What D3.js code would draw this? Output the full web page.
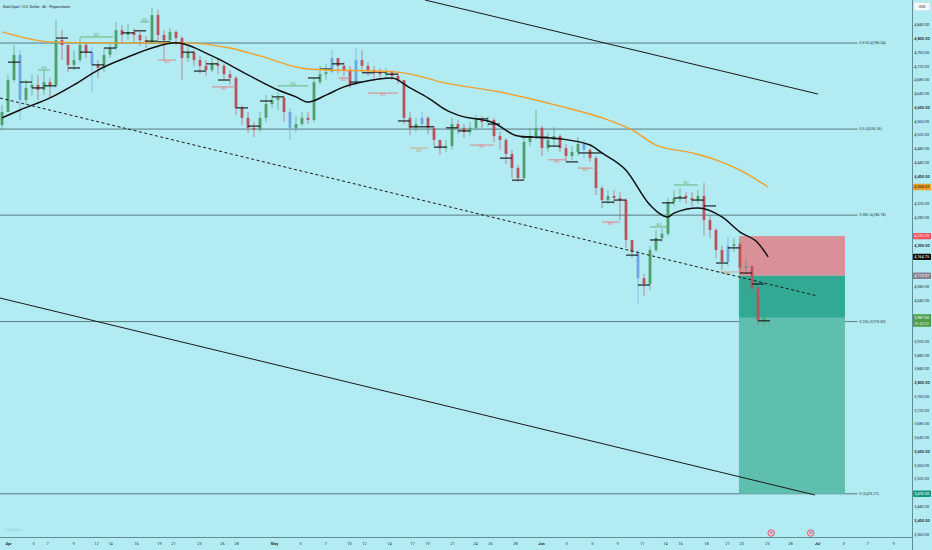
<!DOCTYPE html>
<html>
<head>
<meta charset="utf-8">
<script src="https://cdn.jsdelivr.net/npm/d3@7"></script>
<style>
  html, body { margin: 0; padding: 0; background: #b2ebf2; }
  svg { display: block; font-family: Roboto, "Liberation Sans", sans-serif; }
</style>
</head>
<body>
<svg id="chart" width="932" height="550"></svg>
<script>
// ---- data: 12h candles (index 0 = last days of March) ----
const firstOpen = 4548;
const closes = [
  4586, 4679, 4752, 4621, 4656, 4665, 4650, 4673, 4662, 4795,
  4781, 4723, 4737, 4781, 4760, 4723, 4714, 4752, 4772, 4824,
  4810, 4819, 4810, 4795, 4790, 4868, 4810, 4795, 4819, 4801,
  4743, 4760, 4737, 4720, 4708, 4726, 4720, 4696, 4685, 4598,
  4569, 4540, 4534, 4569, 4609, 4621, 4627, 4586, 4540, 4551,
  4569, 4563, 4673, 4696, 4702, 4743, 4720, 4708, 4667, 4737,
  4720, 4708, 4702, 4696, 4702, 4691, 4679, 4569, 4540, 4551,
  4569, 4540, 4505, 4481, 4487, 4551, 4540, 4528, 4540, 4563,
  4557, 4563, 4516, 4505, 4464, 4423, 4394, 4499, 4516, 4540,
  4481, 4505, 4516, 4481, 4458, 4470, 4493, 4476, 4452, 4365,
  4330, 4342, 4336, 4330, 4214, 4179, 4103, 4086, 4185, 4220,
  4232, 4324, 4336, 4342, 4336, 4330, 4342, 4272, 4243, 4185,
  4150, 4197, 4202, 4133, 4138, 4075, 3980, 3987.6
];
const highs = [
  4606, 4694, 4781, 4766, 4679, 4694, 4694, 4708, 4685, 4853,
  4824, 4781, 4766, 4801, 4790, 4775, 4737, 4772, 4790, 4848,
  4839, 4842, 4830, 4819, 4807, 4891, 4883, 4824, 4830, 4824,
  4805, 4778, 4766, 4749, 4737, 4743, 4743, 4726, 4708, 4691,
  4606, 4586, 4557, 4586, 4635, 4638, 4644, 4633, 4598, 4574,
  4586, 4586, 4685, 4720, 4726, 4766, 4743, 4731, 4720, 4772,
  4766, 4731, 4720, 4714, 4714, 4708, 4702, 4679, 4586, 4569,
  4586, 4574, 4545, 4505, 4505, 4569, 4563, 4551, 4557, 4577,
  4574, 4574, 4569, 4528, 4510, 4476, 4432, 4510, 4540, 4592,
  4545, 4528, 4543, 4522, 4493, 4487, 4513, 4505, 4481, 4458,
  4371, 4359, 4359, 4353, 4336, 4214, 4185, 4115, 4197, 4243,
  4249, 4336, 4359, 4365, 4353, 4353, 4359, 4380, 4284, 4249,
  4197, 4223, 4220, 4208, 4162, 4140, 4080, 4001
];
const lows = [
  4534, 4586, 4673, 4563, 4606, 4635, 4621, 4635, 4627, 4656,
  4737, 4702, 4708, 4731, 4743, 4644, 4685, 4702, 4743, 4766,
  4790, 4795, 4790, 4778, 4772, 4784, 4795, 4737, 4790, 4781,
  4679, 4731, 4720, 4696, 4691, 4702, 4696, 4679, 4667, 4577,
  4548, 4525, 4513, 4528, 4557, 4598, 4592, 4557, 4505, 4528,
  4545, 4551, 4557, 4667, 4679, 4696, 4696, 4691, 4656, 4662,
  4702, 4691, 4685, 4679, 4685, 4679, 4667, 4551, 4519, 4528,
  4540, 4522, 4487, 4461, 4470, 4476, 4522, 4510, 4516, 4534,
  4540, 4545, 4499, 4476, 4435, 4394, 4383, 4388, 4487, 4505,
  4458, 4470, 4487, 4470, 4441, 4447, 4458, 4452, 4441, 4345,
  4307, 4319, 4319, 4272, 4191, 4162, 4025, 4051, 4069, 4179,
  4208, 4226, 4313, 4324, 4319, 4313, 4319, 4226, 4220, 4162,
  4127, 4138, 4179, 4115, 4115, 4060, 3966, 3964
];
const blueBars = [3, 15, 48, 55, 59, 70, 97, 106, 121];

// moving averages, sampled [bar, price]
const orangeMA = [
  [0, 4819], [8, 4790], [16, 4787], [30, 4787], [38, 4772], [43, 4749], [51, 4711],
  [66, 4702], [74, 4670], [83, 4644], [93, 4603], [101, 4563], [105, 4534],
  [109, 4490], [115, 4467], [119, 4447], [123, 4417], [127.7, 4368]
];
const blackMA = [
  [0, 4569], [3, 4592], [8, 4627], [12, 4665], [16, 4708], [21, 4746], [25, 4772],
  [29, 4787], [35, 4749], [41, 4694], [46, 4650], [49, 4630], [51, 4615], [54, 4635],
  [57, 4659], [60, 4673], [65, 4685], [68, 4656], [71, 4627], [74, 4592], [76, 4577],
  [82, 4554], [86, 4516], [93, 4508], [98, 4490], [100, 4467], [104, 4417],
  [108, 4316], [111, 4281], [112, 4292], [116, 4307], [120, 4281], [123, 4237],
  [126, 4205], [127.7, 4164.75]
];

// short black level marks [bar, price]
const levelMarks = [
  [2, 4731], [4, 4673], [6, 4656], [8, 4662], [10, 4801], [12, 4714], [14, 4760], [16, 4723],
  [18, 4772], [21, 4816], [23, 4822], [25, 4792], [27, 4790], [29, 4787], [31, 4760],
  [33, 4705], [35, 4726], [37, 4679], [40, 4598], [42, 4545], [44, 4618], [46, 4630],
  [52, 4685], [54, 4711], [56, 4726], [59, 4673], [61, 4700], [63, 4702], [65, 4696],
  [67, 4560], [69, 4543], [71, 4543], [73, 4484], [75, 4540], [77, 4531], [80, 4566],
  [82, 4551], [84, 4452], [86, 4388], [87.5, 4513], [90, 4513], [92, 4487], [95, 4441],
  [97, 4467], [99, 4467], [101, 4324], [103, 4330], [105, 4170], [107, 4083], [109, 4214],
  [111, 4322], [113, 4336], [116, 4330], [118, 4313], [120, 4147], [122, 4191],
  [124, 4118], [126, 4086], [127, 3979]
];

// structure lines [fromBar, toBar, price, kind]
const structures = [
  [6, 8, 4708, 'bull'], [13, 18.5, 4804, 'bull'], [23, 24.5, 4848, 'bull'],
  [26, 29, 4737, 'bear'], [35, 39, 4659, 'bear'], [46, 51, 4662, 'bull'],
  [56, 58, 4685, 'bear'], [61, 66, 4641, 'bear'], [68, 71, 4481, 'tan'],
  [78, 82, 4490, 'bear'], [91, 94, 4447, 'bear'], [96, 98.5, 4423, 'bear'],
  [100, 103, 4266, 'bear'], [108, 111, 4252, 'bull'], [112, 116, 4374, 'bull'],
  [119, 123, 4121, 'tan']
];

// fibonacci levels [ratio, price]
const fibLevels = [[0.618, 4786.54], [0.5, 4536.36], [0.382, 4286.18], [0.236, 3976.83], [0, 3476.27]];

// drawn trend lines [[bar, price], [bar, price]]
const trendLines = [
  [[70.5, 4911.6], [136, 4638.3]],
  [[-0.34, 4045.3], [135.5, 3472.6]]
];
const dashedLine = [[-0.34, 4626.7], [136, 4051]];

// short position
const position = { fromBar: 122.83, toBar: 140.5, stop: 4225.29, entry: 4110.07, target: 3476.5 };
const lastPrice = 3987.6;
const countdown = '01:52:22';

// right axis tags
const priceTags = [
  { price: 4368.03, bg: '#f39c26', fg: '#1a1a1a' },
  { price: 4225.29, bg: '#f0505c', fg: '#ffffff' },
  { price: 4164.75, bg: '#0d0d0d', fg: '#ffffff' },
  { price: 4110.07, bg: '#8b8090', fg: '#ffffff' },
  { price: 3476.50, bg: '#14977d', fg: '#ffffff' }
];

const priceTicks = d3.range(3360, 4841, 40);
const timeTicks = [
  [1, 'Apr'], [5.17, '5'], [7.5, '7'], [11.83, '9'], [15.67, '12'], [18, '14'], [22.33, '16'],
  [26.17, '19'], [28.5, '21'], [32.83, '23'], [36.67, '26'], [39, '28'], [45.33, 'May'],
  [49.67, '5'], [53.83, '7'], [57.83, '10'], [60.33, '12'], [64.5, '14'], [68.33, '17'],
  [70.83, '19'], [75, '21'], [78.83, '24'], [81.33, '26'], [85.5, '28'], [89.83, 'Jun'],
  [94, '3'], [98.33, '5'], [102.5, '9'], [106.67, '11'], [110.5, '14'], [113, '16'],
  [117.33, '18'], [120.83, '21'], [123.17, '23'], [127.5, '25'], [131.33, '28'],
  [135.83, 'Jul'], [140.17, '3'], [144.17, '7'], [148.5, '9']
];
const months = ['Apr', 'May', 'Jun', 'Jul'];
const events = [128.2, 134.8];

// ---- layout ----
const W = 932, H = 550;
const plotW = 912, plotH = 537;
const fibEndBar = 142.6;
const UP = '#4f9e6b', DOWN = '#b9545e', BLUE = '#6ea7e0';

const x = d3.scaleLinear().domain([-1 / 3, 151.67]).range([0, plotW]);
const y = d3.scaleLinear().domain([3350.6, 4911.6]).range([plotH, 0]);

const svg = d3.select('#chart');
svg.append('rect').attr('width', W).attr('height', H).attr('fill', '#b2ebf2');

svg.append('clipPath').attr('id', 'plot')
  .append('rect').attr('width', plotW).attr('height', plotH);
const plot = svg.append('g').attr('clip-path', 'url(#plot)');

// fib levels
plot.selectAll('line.fib').data(fibLevels).join('line')
  .attr('class', 'fib')
  .attr('x1', 0).attr('x2', x(fibEndBar))
  .attr('y1', d => y(d[1])).attr('y2', d => y(d[1]))
  .attr('stroke', '#4f6d74').attr('stroke-width', 0.9);
plot.selectAll('text.fib').data(fibLevels).join('text')
  .attr('class', 'fib')
  .attr('x', x(fibEndBar) + 2).attr('y', d => y(d[1]) + 1.3)
  .attr('font-size', 3.6).attr('fill', '#2b3a40')
  .text(d => `${d[0]} (${d3.format(',.2f')(d[1])})`);

// position box
const px0 = x(position.fromBar), px1 = x(position.toBar);
plot.append('rect').attr('x', px0).attr('width', px1 - px0)
  .attr('y', y(position.stop)).attr('height', y(position.entry) - y(position.stop))
  .attr('fill', '#da9099');
plot.append('rect').attr('x', px0).attr('width', px1 - px0)
  .attr('y', y(position.entry)).attr('height', y(lastPrice) - y(position.entry))
  .attr('fill', '#31a993');
plot.append('rect').attr('x', px0).attr('width', px1 - px0)
  .attr('y', y(lastPrice)).attr('height', y(position.target) - y(lastPrice))
  .attr('fill', '#5ebfae');

// candles
const bars = closes.map((c, i) => ({
  i, open: i === 0 ? firstOpen : closes[i - 1], close: c, high: highs[i], low: lows[i]
}));
const colorOf = d => blueBars.includes(d.i) ? BLUE : (d.close >= d.open ? UP : DOWN);
const candle = plot.append('g').selectAll('g').data(bars).join('g');
candle.append('line')
  .attr('x1', d => x(d.i)).attr('x2', d => x(d.i))
  .attr('y1', d => y(d.high)).attr('y2', d => y(d.low))
  .attr('stroke', colorOf).attr('stroke-width', 0.8).attr('opacity', 0.8);
candle.append('rect')
  .attr('x', d => x(d.i) - 1.4).attr('width', 2.8)
  .attr('y', d => y(Math.max(d.open, d.close)))
  .attr('height', d => Math.max(0.8, Math.abs(y(d.open) - y(d.close))))
  .attr('fill', colorOf);

// structure lines
const structColor = { bull: '#5fb06a', bear: '#e07a80', tan: '#c9a27a' };
plot.selectAll('line.st').data(structures).join('line')
  .attr('class', 'st')
  .attr('x1', d => x(d[0])).attr('x2', d => x(d[1]))
  .attr('y1', d => y(d[2])).attr('y2', d => y(d[2]))
  .attr('stroke', d => structColor[d[3]]).attr('stroke-width', 0.9);
plot.selectAll('text.st').data(structures).join('text')
  .attr('class', 'st')
  .attr('x', d => (x(d[0]) + x(d[1])) / 2)
  .attr('y', d => y(d[2]) + (d[3] === 'bull' ? -1 : 3.4))
  .attr('text-anchor', 'middle').attr('font-size', 2.6)
  .attr('fill', d => structColor[d[3]])
  .text('BOS');

// level marks
plot.selectAll('line.mark').data(levelMarks).join('line')
  .attr('class', 'mark')
  .attr('x1', d => x(d[0] - 1)).attr('x2', d => x(d[0] + 1))
  .attr('y1', d => y(d[1])).attr('y2', d => y(d[1]))
  .attr('stroke', '#111').attr('stroke-width', 1.1);

// moving averages
const maLine = d3.line().x(d => x(d[0])).y(d => y(d[1])).curve(d3.curveMonotoneX);
plot.append('path').attr('d', maLine(orangeMA))
  .attr('fill', 'none').attr('stroke', '#f2a12c').attr('stroke-width', 1.4);
plot.append('path').attr('d', maLine(blackMA))
  .attr('fill', 'none').attr('stroke', '#111').attr('stroke-width', 1.5);

// trend lines
const straight = d3.line().x(d => x(d[0])).y(d => y(d[1]));
plot.selectAll('path.trend').data(trendLines).join('path')
  .attr('class', 'trend').attr('d', straight)
  .attr('fill', 'none').attr('stroke', '#1a1a1a').attr('stroke-width', 1);
plot.append('path').attr('d', straight(dashedLine))
  .attr('fill', 'none').attr('stroke', '#1a1a1a').attr('stroke-width', 1)
  .attr('stroke-dasharray', '3,2.5');

// title + watermark
svg.append('text').attr('x', 3).attr('y', 8).attr('font-size', 3.7).attr('fill', '#1c2428')
  .text('Gold Spot / U.S. Dollar · 4h · Pepperstone');
svg.append('text').attr('x', 4).attr('y', 531).attr('font-size', 3.4).attr('fill', '#8fcdd4')
  .text('TradingView');

// axis frame
svg.append('line').attr('x1', plotW + 0.5).attr('x2', plotW + 0.5).attr('y1', 0).attr('y2', H)
  .attr('stroke', '#5e8d94').attr('stroke-width', 1);
svg.append('line').attr('x1', 0).attr('x2', plotW).attr('y1', plotH + 0.5).attr('y2', plotH + 0.5)
  .attr('stroke', '#5e8d94').attr('stroke-width', 1);

// price axis: hide tick labels that sit under a price tag, like the platform does
const tagH = 6.4;
const lastY = y(lastPrice);
const covered = p => {
  const py = y(p);
  return priceTags.some(t => Math.abs(y(t.price) - py) < tagH + 0.2) ||
    (py > lastY - 3.6 - 3.3 && py < lastY + 9 + 3.3);
};
const gY = svg.append('g').attr('transform', `translate(${plotW},0)`)
  .call(d3.axisRight(y).tickValues(priceTicks.filter(p => !covered(p))).tickSize(0).tickPadding(2.2)
    .tickFormat(d3.format(',.2f')));
gY.select('.domain').remove();
gY.attr('font-family', null).attr('font-size', null);
gY.selectAll('text').attr('font-size', 3.9).attr('fill', '#27343a')
  .attr('font-weight', d => d % 200 === 0 ? 'bold' : 'normal');

// time axis
const gX = svg.append('g').attr('transform', `translate(0,${plotH})`)
  .call(d3.axisBottom(x).tickValues(timeTicks.map(d => d[0])).tickSize(0).tickPadding(5)
    .tickFormat((d, i) => timeTicks[i][1]));
gX.select('.domain').remove();
gX.attr('font-family', null).attr('font-size', null);
gX.selectAll('text').attr('font-size', 3.9).attr('fill', '#27343a')
  .attr('font-weight', (d, i) => months.includes(timeTicks[i][1]) ? 'bold' : 'normal');

// event markers
svg.selectAll('circle.ev').data(events).join('circle')
  .attr('class', 'ev').attr('cx', d => x(d)).attr('cy', 533).attr('r', 3.3)
  .attr('fill', '#f3c9d3').attr('stroke', '#d8436a').attr('stroke-width', 0.8);
svg.selectAll('text.ev').data(events).join('text')
  .attr('class', 'ev').attr('x', d => x(d)).attr('y', 534.2)
  .attr('text-anchor', 'middle').attr('font-size', 2.6).attr('fill', '#2a4aa0').text('US');

// price tags
const tag = svg.selectAll('g.tag').data(priceTags).join('g').attr('class', 'tag');
tag.append('rect').attr('x', plotW + 1).attr('width', W - plotW - 2)
  .attr('y', d => y(d.price) - tagH / 2).attr('height', tagH).attr('rx', 0.8)
  .attr('fill', d => d.bg);
tag.append('text').attr('x', plotW + 2.2).attr('y', d => y(d.price) + 1.4)
  .attr('font-size', 3.9).attr('fill', d => d.fg)
  .text(d => d3.format(',.2f')(d.price));

// last price tag with countdown
svg.append('rect').attr('x', plotW + 1).attr('width', W - plotW - 2)
  .attr('y', lastY - 3.6).attr('height', 12.6).attr('rx', 0.8).attr('fill', '#4e9c4a');
svg.append('text').attr('x', plotW + 2.2).attr('y', lastY + 1.4).attr('font-size', 3.9)
  .attr('fill', '#fff').text(d3.format(',.2f')(lastPrice));
svg.append('text').attr('x', plotW + 2.8).attr('y', lastY + 7.2).attr('font-size', 3.6)
  .attr('fill', '#e4f4e0').text(countdown);

// currency box
svg.append('rect').attr('x', plotW + 2).attr('y', 2.5).attr('width', 16).attr('height', 8)
  .attr('rx', 1).attr('fill', '#f4fbfc').attr('stroke', '#c9d8da').attr('stroke-width', 0.5);
svg.append('text').attr('x', plotW + 10).attr('y', 7.8).attr('text-anchor', 'middle')
  .attr('font-size', 3.8).attr('fill', '#27343a').text('USD');
</script>
</body>
</html>
